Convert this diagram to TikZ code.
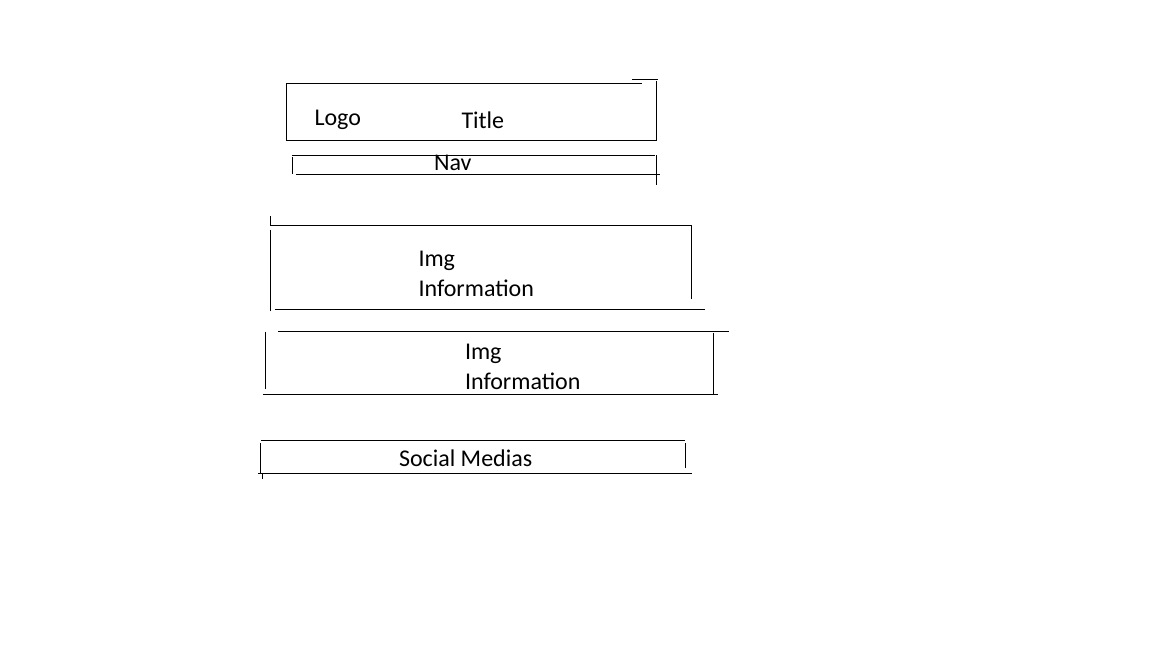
\documentclass[tikz,border=0pt]{standalone}
\usepackage{fontspec}
\setmainfont{Carlito}
\begin{document}
\begin{tikzpicture}[x=0.75pt,y=-0.75pt,
  ln/.style={line width=0.75pt,black},
  lbl/.style={anchor=base west,inner sep=0pt,outer sep=0pt,font=\fontsize{18pt}{22.5pt}\selectfont}]
\useasboundingbox[fill=white] (0,0) rectangle (1152,648);
% Header box
\draw[ln] (286,83.5) -- (642,83.5);
\draw[ln] (632,80) -- (658,80);
\draw[ln] (286,83.5) -- (286,141);
\draw[ln] (286,141) -- (657,141);
\draw[ln] (656.5,81) -- (656.5,141);
\node[lbl] (logo) at (314.5,125.5) {Logo};
\node[lbl] (title) at (461.5,129) {Title};
% Nav
\draw[ln] (292,155.5) -- (655,155.5);
\draw[ln] (292,157) -- (292,174);
\draw[ln] (296,174.5) -- (660,174.5);
\draw[ln] (656,155.5) -- (656,185);
\node[lbl] (nav) at (434,171) {Nav};
% Section 1
\draw[ln] (270.5,216.5) -- (270.5,226);
\draw[ln] (270.5,226) -- (691.5,226);
\draw[ln] (691.5,226) -- (691.5,299);
\draw[ln] (270.5,230.5) -- (270.5,311.5);
\draw[ln] (275,309.5) -- (705,309.5);
\node[lbl] (img1) at (418.5,267) {Img};
\node[lbl] (info1) at (418.5,297) {Information};
% Section 2
\draw[ln] (278,331.5) -- (729,331.5);
\draw[ln] (265.5,332) -- (265.5,388.5);
\draw[ln] (713.5,333) -- (713.5,393.5);
\draw[ln] (263,394.5) -- (718,394.5);
\node[lbl] (img2) at (465,359) {Img};
\node[lbl] (info2) at (465,389) {Information};
% Social
\draw[ln] (261,440.5) -- (685,440.5);
\draw[ln] (260,443) -- (260,473);
\draw[ln] (685,443) -- (685,468);
\draw[ln] (258,473.5) -- (692,473.5);
\draw[ln] (262,473.5) -- (262,479);
\node[lbl] (social) at (399,466) {Social Medias};
\end{tikzpicture}
\end{document}
